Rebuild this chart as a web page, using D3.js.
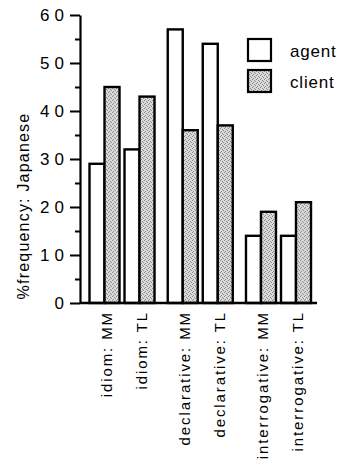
<!DOCTYPE html>
<html>
<head>
<meta charset="utf-8">
<script src="https://cdn.jsdelivr.net/npm/d3@7"></script>
<style>
  html, body { margin: 0; padding: 0; background: #fff; }
  svg { display: block; font-family: "Liberation Sans", Arial, Helvetica, sans-serif; }
</style>
</head>
<body>
<div id="chart"></div>
<script>
// ---- data ----
const groups = ["idiom", "declarative", "interrogative"];
const methods = ["MM", "TL"];
const categories = ["idiom: MM", "idiom: TL", "declarative: MM", "declarative: TL", "interrogative: MM", "interrogative: TL"];
const seriesNames = ["agent", "client"];
const agentValues = [29, 32, 57, 54, 14, 14];
const clientValues = [45, 43, 36, 37, 19, 21];
const majorTicks = [0, 10, 20, 30, 40, 50, 60];
const minorTicks = [5, 15, 25, 35, 45, 55];
const yTitle = "%frequency: Japanese";

// ---- layout ----
const W = 340, H = 474;
const svg = d3.select("#chart").append("svg").attr("width", W).attr("height", H);

const defs = svg.append("defs");
const pat = defs.append("pattern").attr("id", "stipple")
  .attr("width", 4).attr("height", 4).attr("patternUnits", "userSpaceOnUse");
pat.append("rect").attr("width", 4).attr("height", 4).attr("fill", "#dadada");
[[0,0],[2,1],[1,3],[3,2]].forEach(([a,b]) =>
  pat.append("rect").attr("x", a).attr("y", b).attr("width", 1).attr("height", 1).attr("fill", "#8a8a8a"));

const y = d3.scaleLinear().domain([0, 60]).range([303, 15]);
const x0 = d3.scaleBand().domain(groups).range([87, 313.5]).paddingInner(0.105);
const x1 = d3.scaleBand().domain(methods).range([0, x0.bandwidth()]).paddingInner(0.143).paddingOuter(0.0715);
const x2 = d3.scaleBand().domain(seriesNames).range([0, x1.bandwidth()]);
const axisX = 80;

const rows = categories.map((c, i) => {
  const g = groups[Math.floor(i / 2)];
  const m = methods[i % 2];
  return { label: c, group: g, method: m, agent: agentValues[i], client: clientValues[i] };
});
const px = d => x0(d.group) + x1(d.method);

// bars
const bars = svg.append("g");
rows.forEach(d => {
  seriesNames.forEach(s => {
    bars.append("rect")
      .attr("x", px(d) + x2(s))
      .attr("y", y(d[s]))
      .attr("width", x2.bandwidth())
      .attr("height", y(0) - y(d[s]))
      .attr("fill", s === "agent" ? "#fff" : "url(#stipple)")
      .attr("stroke", "#000")
      .attr("stroke-width", 2.4);
  });
});

// y axis
const yAxis = svg.append("g").attr("transform", `translate(${axisX},0)`)
  .call(d3.axisLeft(y).tickValues(majorTicks).tickSize(10).tickSizeOuter(0).tickPadding(1).tickFormat(d3.format("d")));
yAxis.select(".domain").attr("stroke-width", 2.2);
yAxis.selectAll(".tick line").attr("stroke-width", 2);
yAxis.selectAll(".tick text").attr("font-size", 17).attr("fill", "#000")
  .attr("font-family", "'Liberation Sans', Arial, sans-serif").style("letter-spacing", "5px");

const yMinor = svg.append("g").attr("transform", `translate(${axisX},0)`)
  .call(d3.axisLeft(y).tickValues(minorTicks).tickSize(5).tickSizeOuter(0).tickFormat(""));
yMinor.select(".domain").remove();
yMinor.selectAll(".tick line").attr("stroke-width", 2);

// x baseline
svg.append("line")
  .attr("x1", axisX).attr("x2", x0.range()[1] + 3.5)
  .attr("y1", y(0)).attr("y2", y(0))
  .attr("stroke", "#000").attr("stroke-width", 2.6);

// x labels
svg.append("g").selectAll("text").data(rows).join("text")
  .attr("transform", d => `translate(${px(d) + x1.bandwidth() / 2 + 7},311) rotate(-90)`)
  .attr("text-anchor", "end")
  .attr("font-size", 15)
  .style("letter-spacing", "1.9px")
  .attr("fill", "#000")
  .text(d => d.label);

// y title
svg.append("text")
  .attr("transform", `translate(29,206) rotate(-90)`)
  .attr("text-anchor", "middle")
  .attr("font-size", 16)
  .style("letter-spacing", "1.2px")
  .attr("fill", "#000")
  .text(yTitle);

// legend
const leg = svg.append("g").attr("transform", "translate(248,39)");
seriesNames.forEach((s, i) => {
  leg.append("rect")
    .attr("x", 0).attr("y", i * 31)
    .attr("width", 23).attr("height", 22)
    .attr("fill", s === "agent" ? "#fff" : "url(#stipple)")
    .attr("stroke", "#000").attr("stroke-width", 2.2);
  leg.append("text")
    .attr("x", 42).attr("y", i * 31 + 18)
    .attr("font-size", 17)
    .style("letter-spacing", "0.8px")
    .attr("fill", "#000")
    .text(s);
});
</script>
</body>
</html>
